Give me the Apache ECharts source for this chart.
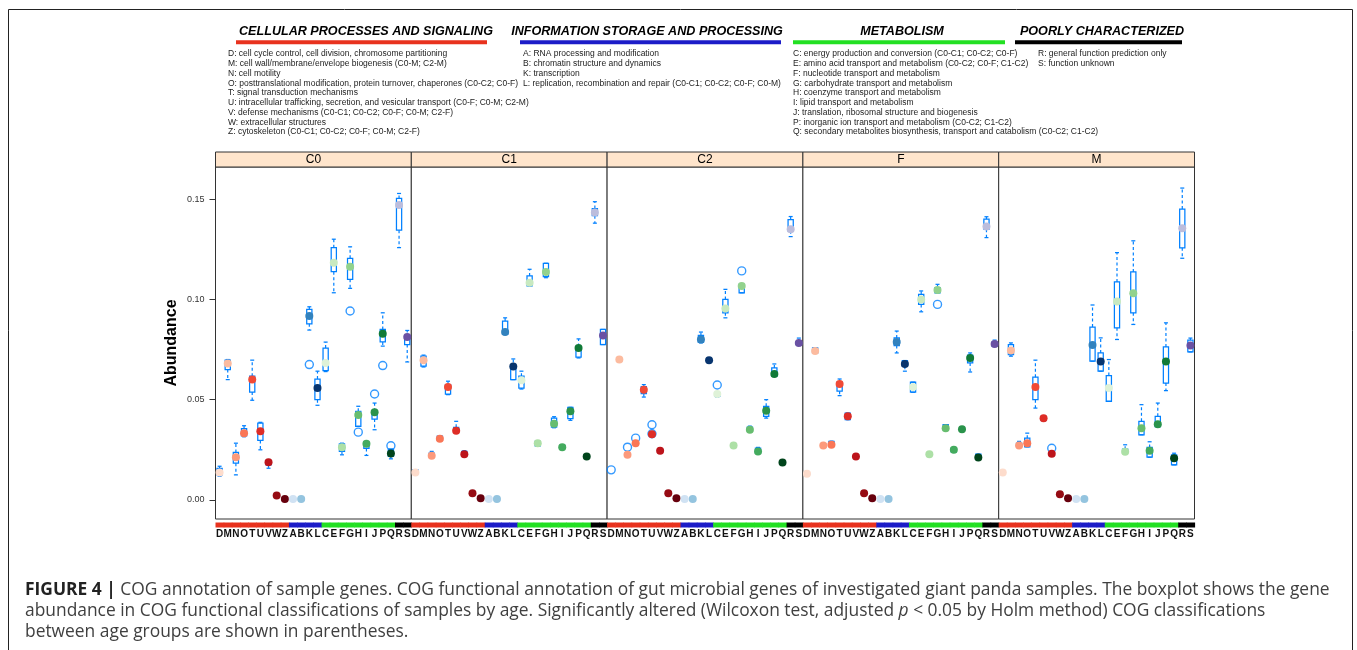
<!DOCTYPE html>
<html>
<head>
<meta charset="utf-8">
<script src="https://cdn.jsdelivr.net/npm/echarts@6/dist/echarts.min.js"></script>
<style>
  html, body { margin: 0; padding: 0; background: #fff; }
  #main { width: 1357px; height: 650px; }
</style>
</head>
<body>
<div id="main"></div>
<script>
// COG letters, in plotting order
const cogCats = ['D','M','N','O','T','U','V','W','Z','A','B','K','L','C','E','F','G','H','I','J','P','Q','R','S'];
const catGroup = [0,0,0,0,0,0,0,0,0, 1,1,1,1, 2,2,2,2,2,2,2,2,2, 3,3];
const panelNames = ['C0', 'C1', 'C2', 'F', 'M'];

// median dot colour for each letter
const dotColors = [
  '#fddccc','#fcbb9f','#fc9a7c','#fa7656','#f14a36','#de2d26','#bd141b','#960b13','#67000d',
  '#d0e2f3','#94c4df','#3282be','#08356f',
  '#dff2d8','#c8e9c0','#ade0a6','#92d28d','#67bd6f','#44ab5e','#2a934b','#107a37','#00441b',
  '#bcbddc','#6a51a3'
];

// boxes: [lower whisker, Q1, Q3, upper whisker], null = no box
const boxC0 = [
  [0.0118,0.0125,0.0158,0.0168],[0.0600,0.0650,0.0697,0.0700],[0.0125,0.0183,0.0237,0.0283],[0.0315,0.0320,0.0355,0.0370],
  [0.0497,0.0538,0.0617,0.0697],[0.0250,0.0297,0.0383,0.0387],[0.0158,0.0175,0.0195,0.0198],[0.0018,0.0020,0.0024,0.0026],
  [0.0003,0.0004,0.0006,0.0007],[0.0003,0.0004,0.0006,0.0007],[0.0003,0.0004,0.0006,0.0007],[0.0847,0.0878,0.0950,0.0963],
  [0.0472,0.0500,0.0603,0.0642],[0.0640,0.0645,0.0757,0.0787],[0.1033,0.1138,0.1258,0.1300],[0.0225,0.0242,0.0280,0.0283],
  [0.1055,0.1100,0.1205,0.1262],[0.0367,0.0367,0.0442,0.0467],[0.0222,0.0257,0.0290,0.0290],[0.0350,0.0403,0.0442,0.0483],
  [0.0767,0.0788,0.0850,0.0933],[0.0205,0.0217,0.0253,0.0253],[0.1258,0.1345,0.1503,0.1528],[0.0688,0.0775,0.0808,0.0845]
];
const dotC0 = [0.0137,0.0680,0.0213,0.0333,0.0600,0.0342,0.0188,0.0022,0.0005,0.0005,0.0005,0.0917,
  0.0558,0.0683,0.1183,0.0263,0.1163,0.0423,0.0280,0.0437,0.0828,0.0232,0.1470,0.0813];
const outC0 = [['K',0.0675],['G',0.0942],['H',0.0338],['J',0.0528],['P',0.0670],['Q',0.0270]];

const boxC1 = [
  [0.0135,0.0137,0.0150,0.0150],[0.0663,0.0667,0.0717,0.0722],[0.0215,0.0218,0.0233,0.0242],[0.0295,0.0298,0.0318,0.0320],
  [0.0525,0.0528,0.0575,0.0592],[0.0335,0.0342,0.0362,0.0392],[0.0218,0.0222,0.0242,0.0245],[0.0031,0.0032,0.0034,0.0035],
  [0.0006,0.0007,0.0009,0.0010],[0.0003,0.0004,0.0006,0.0007],[0.0003,0.0004,0.0006,0.0007],[0.0825,0.0825,0.0892,0.0908],
  [0.0600,0.0600,0.0658,0.0703],[0.0553,0.0558,0.0617,0.0642],[0.1067,0.1067,0.1117,0.1150],[0.0267,0.0270,0.0292,0.0295],
  [0.1108,0.1113,0.1180,0.1180],[0.0360,0.0363,0.0408,0.0415],[0.0260,0.0262,0.0272,0.0275],[0.0397,0.0405,0.0462,0.0462],
  [0.0708,0.0712,0.0765,0.0803],[0.0210,0.0212,0.0225,0.0227],[0.1380,0.1417,0.1453,0.1487],[0.0775,0.0775,0.0850,0.0850]
];
const dotC1 = [0.0137,0.0697,0.0220,0.0305,0.0563,0.0345,0.0228,0.0033,0.0008,0.0005,0.0005,0.0837,
  0.0665,0.0597,0.1083,0.0283,0.1137,0.0380,0.0263,0.0442,0.0758,0.0217,0.1433,0.0820];
const outC1 = [];

const boxC2 = [
  null,[0.0693,0.0695,0.0703,0.0705],[0.0222,0.0223,0.0228,0.0228],[0.0280,0.0282,0.0287,0.0288],
  [0.0513,0.0530,0.0565,0.0575],[0.0322,0.0325,0.0335,0.0338],[0.0243,0.0244,0.0247,0.0248],[0.0031,0.0032,0.0034,0.0035],
  [0.0006,0.0007,0.0009,0.0010],[0.0003,0.0004,0.0006,0.0007],[0.0003,0.0004,0.0006,0.0007],[0.0783,0.0785,0.0820,0.0837],
  [0.0695,0.0696,0.0699,0.0700],[0.0513,0.0517,0.0535,0.0537],[0.0908,0.0933,0.1000,0.1050],[0.0268,0.0270,0.0275,0.0276],
  [0.1033,0.1033,0.1075,0.1075],[0.0342,0.0345,0.0363,0.0368],[0.0233,0.0235,0.0258,0.0262],[0.0408,0.0417,0.0467,0.0500],
  [0.0617,0.0617,0.0658,0.0678],[0.0185,0.0185,0.0190,0.0190],[0.1313,0.1342,0.1397,0.1413],[0.0773,0.0775,0.0787,0.0807]
];
const dotC2 = [null,0.0700,0.0225,0.0283,0.0550,0.0328,0.0245,0.0033,0.0008,0.0005,0.0005,0.0800,
  0.0697,0.0528,0.0955,0.0272,0.1067,0.0350,0.0242,0.0445,0.0628,0.0187,0.1350,0.0783];
const outC2 = [['D',0.0150],['N',0.0263],['O',0.0308],['U',0.0375],['U',0.0330],['C',0.0573],['G',0.1142]];

const boxF = [
  [0.0128,0.0129,0.0132,0.0133],[0.0733,0.0733,0.0758,0.0758],[0.0262,0.0265,0.0280,0.0280],[0.0268,0.0270,0.0292,0.0293],
  [0.0520,0.0542,0.0587,0.0603],[0.0400,0.0400,0.0433,0.0433],[0.0215,0.0216,0.0218,0.0219],[0.0031,0.0032,0.0034,0.0035],
  [0.0006,0.0007,0.0009,0.0010],[0.0003,0.0004,0.0006,0.0007],[0.0003,0.0004,0.0006,0.0007],[0.0733,0.0770,0.0808,0.0842],
  [0.0642,0.0667,0.0695,0.0695],[0.0537,0.0537,0.0587,0.0587],[0.0938,0.0975,0.1025,0.1042],[0.0222,0.0223,0.0233,0.0233],
  [0.1033,0.1033,0.1058,0.1075],[0.0348,0.0350,0.0375,0.0375],[0.0237,0.0240,0.0258,0.0258],[0.0350,0.0351,0.0355,0.0356],
  [0.0638,0.0683,0.0722,0.0733],[0.0208,0.0210,0.0228,0.0228],[0.1308,0.1350,0.1400,0.1412],[0.0765,0.0767,0.0787,0.0797]
];
const dotF = [0.0130,0.0742,0.0272,0.0275,0.0578,0.0417,0.0217,0.0033,0.0008,0.0005,0.0005,0.0787,
  0.0678,0.0563,0.1000,0.0228,0.1047,0.0357,0.0250,0.0353,0.0708,0.0212,0.1363,0.0778];
const outF = [['G',0.0975]];

const boxM = [
  [0.0135,0.0135,0.0145,0.0145],[0.0717,0.0725,0.0775,0.0783],[0.0265,0.0267,0.0283,0.0292],[0.0265,0.0265,0.0308,0.0333],
  [0.0458,0.0500,0.0612,0.0697],[0.0392,0.0398,0.0417,0.0417],[0.0228,0.0229,0.0232,0.0233],[0.0026,0.0027,0.0029,0.0030],
  [0.0006,0.0007,0.0009,0.0010],[0.0003,0.0004,0.0006,0.0007],[0.0003,0.0004,0.0006,0.0007],[0.0692,0.0692,0.0862,0.0972],
  [0.0642,0.0642,0.0733,0.0808],[0.0492,0.0492,0.0620,0.0700],[0.0800,0.0858,0.1087,0.1233],[0.0237,0.0237,0.0253,0.0275],
  [0.0875,0.0933,0.1137,0.1292],[0.0325,0.0325,0.0392,0.0475],[0.0213,0.0213,0.0262,0.0290],[0.0365,0.0365,0.0417,0.0483],
  [0.0545,0.0583,0.0763,0.0883],[0.0175,0.0175,0.0225,0.0233],[0.1205,0.1257,0.1450,0.1555],[0.0738,0.0738,0.0797,0.0807]
];
const dotM = [0.0137,0.0745,0.0272,0.0283,0.0563,0.0407,0.0230,0.0028,0.0008,0.0005,0.0005,0.0773,
  0.0690,0.0558,0.0990,0.0240,0.1030,0.0357,0.0245,0.0378,0.0690,0.0208,0.1355,0.0770];
const outM = [['V',0.0258]];

const panelBoxes = [boxC0, boxC1, boxC2, boxF, boxM];
const panelDots = [dotC0, dotC1, dotC2, dotF, dotM];
const panelOut = [outC0, outC1, outC2, outF, outM];

const yTicks = [0, 0.05, 0.10, 0.15];

// header legend
const groupTitles = ['CELLULAR PROCESSES AND SIGNALING', 'INFORMATION STORAGE AND PROCESSING', 'METABOLISM', 'POORLY CHARACTERIZED'];
const cellDesc = [
  'D: cell cycle control, cell division, chromosome partitioning',
  'M: cell wall/membrane/envelope biogenesis (C0-M; C2-M)',
  'N: cell motility',
  'O: posttranslational modification, protein turnover, chaperones (C0-C2; C0-F)',
  'T: signal transduction mechanisms',
  'U: intracellular trafficking, secretion, and vesicular transport (C0-F; C0-M; C2-M)',
  'V: defense mechanisms (C0-C1; C0-C2; C0-F; C0-M; C2-F)',
  'W: extracellular structures',
  'Z: cytoskeleton (C0-C1; C0-C2; C0-F; C0-M; C2-F)'
];
const infoDesc = [
  'A: RNA processing and modification',
  'B: chromatin structure and dynamics',
  'K: transcription',
  'L: replication, recombination and repair (C0-C1; C0-C2; C0-F; C0-M)'
];
const metaDesc = [
  'C: energy production and conversion (C0-C1; C0-C2; C0-F)',
  'E: amino acid transport and metabolism (C0-C2; C0-F; C1-C2)',
  'F: nucleotide transport and metabolism',
  'G: carbohydrate transport and metabolism',
  'H: coenzyme transport and metabolism',
  'I: lipid transport and metabolism',
  'J: translation, ribosomal structure and biogenesis',
  'P: inorganic ion transport and metabolism (C0-C2; C1-C2)',
  'Q: secondary metabolites biosynthesis, transport and catabolism (C0-C2; C1-C2)'
];
const poorDesc = ['R: general function prediction only', 'S: function unknown'];

// styling / layout
const groupColors = ['#e8321e', '#1c1cc8', '#22e022', '#000000'];
const boxBlue = '#0080ff';
const yMin = -0.0095, yMax = 0.166;
const panelLeft = 215.5, panelW = 195.8, panelTop = 167, panelH = 352;
const font = '"Liberation Sans", Arial, sans-serif';

const headerCols = [
  { x1: 236, x2: 487, cx: 366, tx: 228, desc: cellDesc },
  { x1: 520, x2: 781, cx: 647, tx: 523, desc: infoDesc },
  { x1: 793, x2: 1005, cx: 902, tx: 793, desc: metaDesc },
  { x1: 1015, x2: 1182, cx: 1102, tx: 1038, desc: poorDesc }
];

function renderBar(params, api) {
  const k = api.value(0);
  const p = api.coord([k, yMin]);
  const band = api.size([1, 0])[0];
  return {
    type: 'rect',
    shape: { x: p[0] - band / 2, y: p[1] + 3.5, width: band + 0.6, height: 5 },
    style: { fill: groupColors[catGroup[k]] }
  };
}

function renderBox(params, api) {
  const k = api.value(0);
  const lo = api.coord([k, api.value(1)]);
  const q1 = api.coord([k, api.value(2)]);
  const q3 = api.coord([k, api.value(3)]);
  const hi = api.coord([k, api.value(4)]);
  const x = lo[0], hw = 2.6, cw = 2;
  const solid = { stroke: boxBlue, lineWidth: 1.25, fill: null };
  const dash = { stroke: boxBlue, lineWidth: 1.2, lineDash: [3, 2.5], fill: null };
  return {
    type: 'group',
    children: [
      { type: 'line', shape: { x1: x, y1: q3[1], x2: x, y2: hi[1] }, style: dash },
      { type: 'line', shape: { x1: x, y1: q1[1], x2: x, y2: lo[1] }, style: dash },
      { type: 'line', shape: { x1: x - cw, y1: hi[1], x2: x + cw, y2: hi[1] }, style: solid },
      { type: 'line', shape: { x1: x - cw, y1: lo[1], x2: x + cw, y2: lo[1] }, style: solid },
      { type: 'rect', shape: { x: x - hw, y: q3[1], width: hw * 2, height: Math.max(q1[1] - q3[1], 1) }, style: solid }
    ]
  };
}

const grids = [], xAxes = [], yAxes = [], series = [], graphics = [];

panelNames.forEach(function (name, i) {
  const left = panelLeft + i * panelW;
  grids.push({ left: left, top: panelTop, width: panelW, height: panelH, show: true,
    borderColor: '#333', borderWidth: 1, backgroundColor: '#fff' });
  xAxes.push({
    type: 'category', gridIndex: i, data: cogCats,
    axisLine: { show: false }, axisTick: { show: false }, splitLine: { show: false },
    axisLabel: { interval: 0, hideOverlap: false, fontSize: 10, fontWeight: 'bold', color: '#111',
      fontFamily: font, margin: 10 }
  });
  yAxes.push({
    type: 'value', gridIndex: i, min: yMin, max: yMax,
    axisLine: { show: false }, splitLine: { show: false },
    axisTick: { show: i === 0, length: 6, lineStyle: { color: '#333' }, customValues: yTicks },
    axisLabel: { show: i === 0, fontSize: 9, color: '#333', margin: 11, fontFamily: font,
      customValues: yTicks, formatter: function (v) { return v.toFixed(2); } },
    name: i === 0 ? 'Abundance' : '', nameLocation: 'middle', nameGap: 36,
    nameTextStyle: { fontSize: 16, fontWeight: 'bold', color: '#000', fontFamily: font }
  });

  series.push({
    type: 'custom', xAxisIndex: i, yAxisIndex: i, renderItem: renderBar, silent: true, clip: false, z: 1,
    data: cogCats.map(function (c, k) { return [k, yMin]; }), encode: { x: 0, y: 1 }
  });
  series.push({
    type: 'custom', xAxisIndex: i, yAxisIndex: i, renderItem: renderBox, silent: true, z: 1,
    data: panelBoxes[i].map(function (r, k) { return r ? [k].concat(r) : null; }).filter(Boolean),
    encode: { x: 0, y: [1, 2, 3, 4] }
  });
  series.push({
    type: 'scatter', xAxisIndex: i, yAxisIndex: i, symbolSize: 8, silent: true, z: 5,
    itemStyle: { color: 'rgba(0,0,0,0)', borderColor: boxBlue, borderWidth: 1.4 },
    data: panelOut[i].map(function (o) { return [cogCats.indexOf(o[0]), o[1]]; })
  });
  series.push({
    type: 'scatter', xAxisIndex: i, yAxisIndex: i, symbolSize: 8, silent: true, z: 8,
    data: panelDots[i].map(function (v, k) {
      return v == null ? null : { value: [k, v], itemStyle: { color: dotColors[k], opacity: 1 } };
    }).filter(Boolean)
  });

  // strip above the panel
  graphics.push({ type: 'rect', shape: { x: left, y: panelTop - 15, width: panelW, height: 15 },
    style: { fill: '#ffe5cc', stroke: '#333', lineWidth: 1 } });
  graphics.push({ type: 'text', x: left + panelW / 2, y: panelTop - 7.5,
    style: { text: name, fill: '#000', font: '12px ' + font, align: 'center', verticalAlign: 'middle' } });
});

// legend header
headerCols.forEach(function (col, g) {
  graphics.push({ type: 'text', x: col.cx, y: 31.5,
    style: { text: groupTitles[g], fill: '#000', font: 'italic bold 12.6px ' + font, align: 'center', verticalAlign: 'middle' } });
  graphics.push({ type: 'rect', shape: { x: col.x1, y: 40.3, width: col.x2 - col.x1, height: 4 },
    style: { fill: groupColors[g] } });
  col.desc.forEach(function (t, j) {
    graphics.push({ type: 'text', x: col.tx, y: 54 + j * 9.75,
      style: { text: t, fill: '#222', font: '8.5px ' + font, align: 'left', verticalAlign: 'middle' } });
  });
});

// outer frame
graphics.push({ type: 'rect', shape: { x: 8.5, y: 9.5, width: 1344, height: 680 },
  style: { fill: null, stroke: '#222', lineWidth: 1 }, z: -1 });

// caption
const capFont = '"Open Sans", sans-serif';
graphics.push({
  type: 'text', x: 25, y: 579.5,
  style: {
    text: '{b|FIGURE 4 |} COG annotation of sample genes. COG functional annotation of gut microbial genes of investigated giant panda samples. The boxplot shows the gene\n' +
      'abundance in COG functional classifications of samples by age. Significantly altered (Wilcoxon test, adjusted {i|p} < 0.05 by Holm method) COG classifications\n' +
      'between age groups are shown in parentheses.',
    fill: '#404040', font: '17.4px ' + capFont, lineHeight: 21, align: 'left', verticalAlign: 'top',
    rich: {
      b: { fontWeight: 'bold', fontSize: 17.4, fontFamily: capFont, fill: '#222', lineHeight: 21 },
      i: { fontStyle: 'italic', fontSize: 17.4, fontFamily: capFont, lineHeight: 21 }
    }
  }
});

const chart = echarts.init(document.getElementById('main'), null, { renderer: 'canvas' });
chart.setOption({
  animation: false,
  backgroundColor: '#fff',
  grid: grids,
  xAxis: xAxes,
  yAxis: yAxes,
  series: series,
  graphic: { elements: graphics }
});
</script>
</body>
</html>
